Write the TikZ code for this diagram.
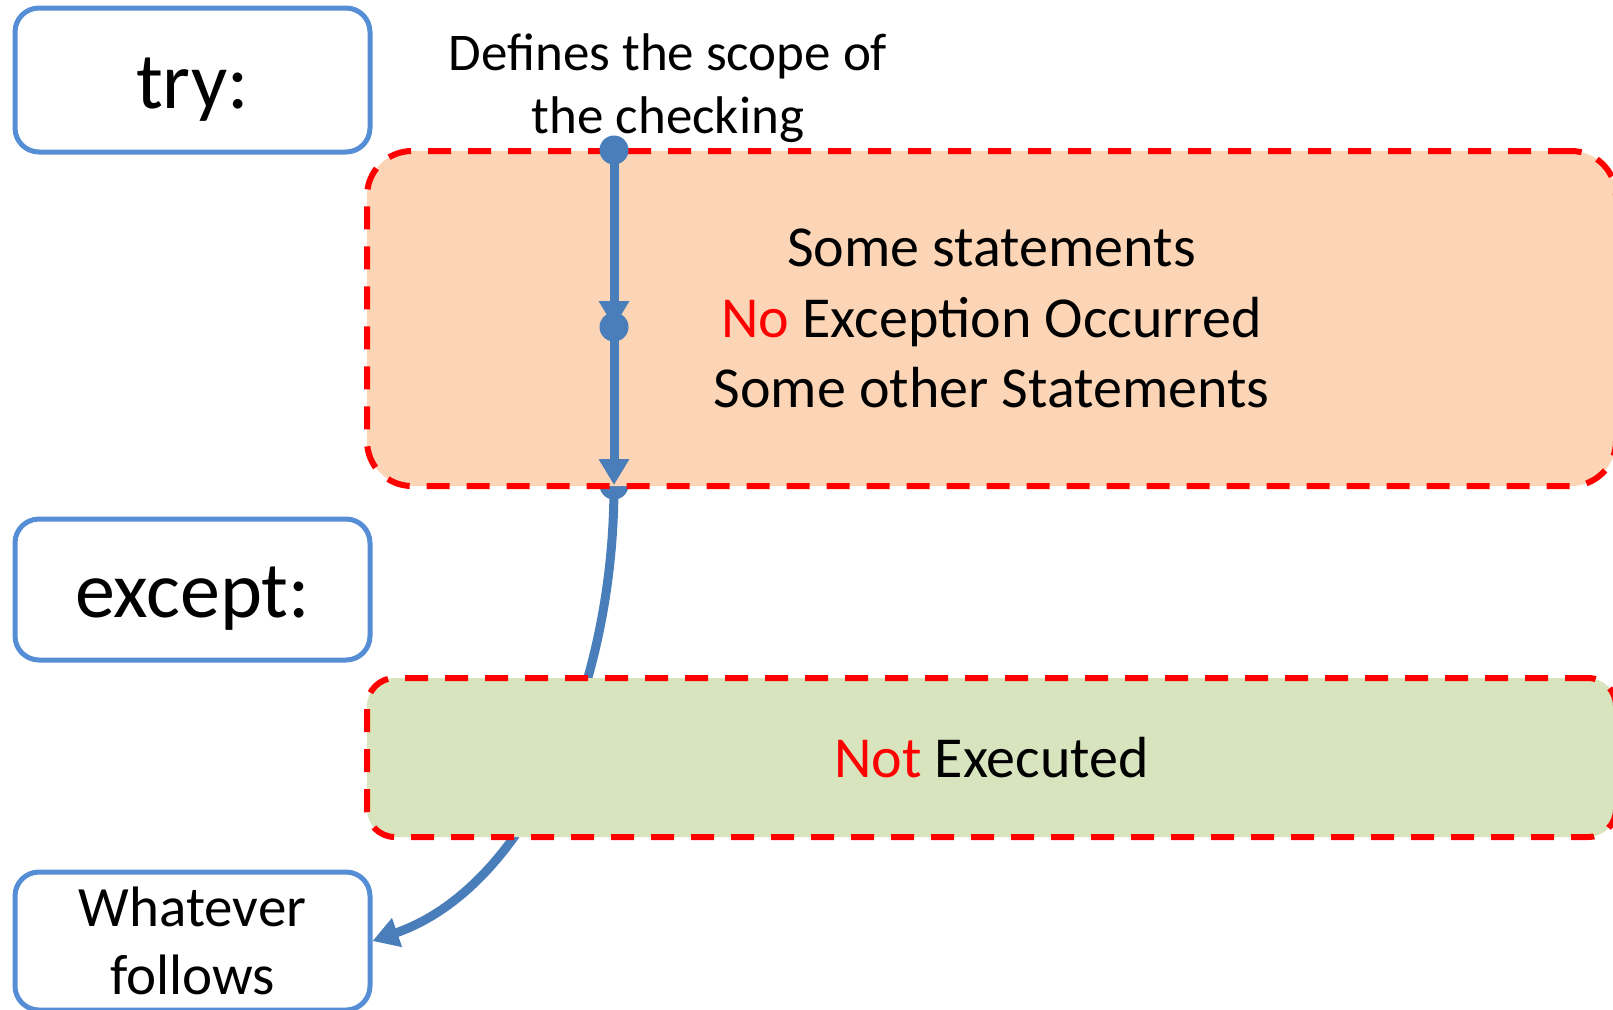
\documentclass[tikz,border=0pt]{standalone}
\usepackage{fontspec}
\setmainfont{Carlito}
\usetikzlibrary{arrows.meta,calc}
\definecolor{boxblue}{HTML}{558ED5}
\definecolor{flowblue}{HTML}{4A7EBB}
\definecolor{tryfill}{HTML}{FBD5B5}
\definecolor{excfill}{HTML}{D7E4BD}
\definecolor{dashred}{HTML}{FF0000}
\begin{document}
\begin{tikzpicture}[x=0.5pt,y=-0.5pt,
  kwbox/.style={draw=boxblue,fill=white,line width=2.5pt,rounded corners=12pt,
    minimum width=177.5pt,inner sep=0pt,align=center},
  region/.style={draw=dashred,line width=3pt,dash pattern=on 11.5pt off 8.5pt,
    rounded corners=#1,minimum width=624.5pt,inner sep=0pt,align=center},
  flow/.style={draw=flowblue,line width=4.5pt,-{Triangle[width=14.5pt,length=13pt]}},
  flowdot/.style={circle,fill=flowblue,minimum size=14.5pt,inner sep=0pt},
  kwfont/.style={font=\fontsize{40}{48}\selectfont,text height=30pt,text depth=2pt},
  midfont/.style={font=\fontsize{29}{35.25}\selectfont},
  notefont/.style={font=\fontsize{26.5}{31.5}\selectfont}
]
\useasboundingbox (0,0) rectangle (1613,1009);
\clip (0,0) rectangle (1613,1009);

% keyword boxes
\node[kwbox,kwfont,minimum height=72pt] (try) at (192.5,80) {try:};
\node[kwbox,kwfont,minimum height=70.5pt] (except) at (192.5,589.5) {except:};
\node[kwbox,minimum height=69pt,font=\fontsize{28.5}{34}\selectfont] (wf) at (192.5,941) {Whatever\\follows};

% connector behind the regions
\node[flowdot] (d3) at (614,485) {};
\draw[flow] (d3.center) .. controls ($(d3.center)+(0,212)$) and ($(wf.east)+(150,-52)$) .. (wf.east);

% regions
\node[region=22.5pt,fill=tryfill,minimum height=167.5pt,midfont] (tryreg) at (991.5,318.5)
  {Some statements\\\textcolor{dashred}{No} Exception Occurred\\Some other Statements};
\node[region=14pt,fill=excfill,minimum height=79.5pt,midfont] (excreg) at (991.5,757.5)
  {\textcolor{dashred}{Not} Executed};

% connectors on top
\node[flowdot] (d1) at (614,150) {};
\node[flowdot] (d2) at (614,327) {};
\draw[flow] (d1.center) -- (d2.center);
\draw[flow] (d2.center) -- (d3.center);

% note
\node[notefont,align=center,inner sep=0pt] (scope) at (668,88.5) {Defines the scope of\\the checking};
\end{tikzpicture}
\end{document}
